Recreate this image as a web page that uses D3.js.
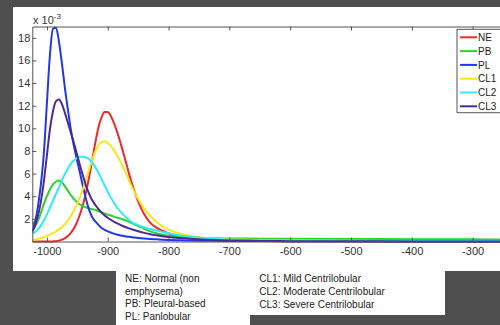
<!DOCTYPE html>
<html><head><meta charset="utf-8">
<script src="https://cdn.jsdelivr.net/npm/d3@7"></script>
<style>html,body{margin:0;padding:0;background:#4f4f4f;}svg{display:block;}</style>
</head><body>
<svg id="c" width="500" height="325"></svg>
<script>
const hu = [-1024,-1020,-1015,-1010,-1005,-1000,-995,-990,-985,-980,-975,-970,-965,-960,-955,-950,-945,-940,-935,-930,-925,-920,-915,-910,-905,-900,-895,-890,-885,-880,-875,-870,-865,-860,-850,-840,-830,-820,-810,-800,-780,-760,-740,-720,-700,-650,-600,-500,-400,-300,-250];
const NE  = [0,0,0,0,0,0,0,0.01,0.03,0.08,0.17,0.3,0.5,0.8,1.22,1.78,2.5,3.4,4.5,5.85,7.35,8.85,10.15,11.0,11.45,11.45,11.1,10.5,9.75,8.9,7.95,7.0,6.0,5.1,3.55,2.4,1.65,1.22,0.95,0.72,0.43,0.27,0.18,0.12,0.09,0.04,0.02,0.01,0.01,0.01,0.01];
const PB  = [1.8,1.4,1.8,2.5,3.3,4.0,4.6,5.05,5.3,5.4,5.2,4.85,4.45,4.05,3.72,3.45,3.25,3.1,3.0,2.92,2.85,2.78,2.68,2.58,2.48,2.38,2.3,2.21,2.12,2.04,1.95,1.85,1.74,1.62,1.37,1.12,0.9,0.73,0.6,0.5,0.39,0.33,0.3,0.28,0.27,0.25,0.24,0.22,0.2,0.19,0.18];
const PL  = [0.9,1.6,3.0,5.0,7.8,12.2,16.5,18.8,18.9,17.6,15.6,13.4,11.5,9.7,8.3,7.1,5.9,4.7,3.6,2.7,2.1,1.75,1.45,1.2,1.02,0.9,0.8,0.7,0.62,0.55,0.5,0.45,0.41,0.38,0.31,0.26,0.22,0.19,0.16,0.14,0.11,0.09,0.07,0.06,0.05,0.04,0.03,0.02,0.01,0.01,0.01];
const CL1 = [0.12,0.16,0.22,0.3,0.38,0.48,0.6,0.74,0.9,1.08,1.3,1.55,1.88,2.3,2.8,3.35,4.0,4.75,5.55,6.45,7.3,8.0,8.5,8.8,8.85,8.7,8.45,8.1,7.65,7.15,6.6,6.0,5.4,4.8,3.75,2.9,2.25,1.75,1.35,1.05,0.68,0.46,0.33,0.25,0.2,0.13,0.09,0.06,0.05,0.04,0.04];
const CL2 = [0.7,0.8,1.05,1.4,1.85,2.4,3.0,3.6,4.2,4.8,5.45,6.0,6.5,6.9,7.2,7.4,7.5,7.5,7.42,7.25,6.95,6.55,6.05,5.5,4.95,4.4,3.9,3.45,3.05,2.7,2.4,2.12,1.9,1.7,1.45,1.25,1.1,0.97,0.85,0.73,0.53,0.39,0.29,0.22,0.18,0.12,0.09,0.06,0.05,0.04,0.04];
const CL3 = [0.9,1.3,2.2,3.5,5.3,7.6,9.9,11.5,12.4,12.55,12.1,11.3,10.4,9.5,8.6,7.6,6.6,5.7,4.8,4.15,3.6,3.2,2.85,2.55,2.3,2.1,1.92,1.76,1.62,1.49,1.37,1.26,1.16,1.07,0.9,0.76,0.64,0.55,0.47,0.4,0.3,0.22,0.16,0.12,0.09,0.05,0.03,0.02,0.01,0.01,0.01];
const seriesNames = ["NE","PB","PL","CL1","CL2","CL3"];
const seriesValues = [NE,PB,PL,CL1,CL2,CL3];
const colors = ["#f02a2a","#2fd02f","#2536e6","#f7e71c","#30ecec","#4b2a98"];
const xTicks = [-1000,-900,-800,-700,-600,-500,-400,-300];
const yTicks = [2,4,6,8,10,12,14,16,18];
const notesLeft = ["NE: Normal (non","emphysema)","PB: Pleural-based","PL: Panlobular"];
const notesRight = ["CL1: Mild Centrilobular","CL2: Moderate Centrilobular","CL3: Severe Centrilobular"];

const svg = d3.select("#c");
const font = "'Liberation Sans', Arial, sans-serif";
svg.append("rect").attr("width",500).attr("height",325).attr("fill","#4f4f4f");
// white panels
svg.append("rect").attr("x",13).attr("y",7).attr("width",490).attr("height",264).attr("fill","#fff");
svg.append("rect").attr("x",116).attr("y",270).attr("width",134).attr("height",56).attr("fill","#fff");
svg.append("rect").attr("x",249).attr("y",270).attr("width",196).attr("height",45).attr("fill","#fff");

const L = 32.3, R = 500, T = 26.5, B = 241.5;
const x = d3.scaleLinear().domain([-1024,-255]).range([L,R]);
const y = d3.scaleLinear().domain([0,19]).range([B,T]);

svg.append("defs").append("clipPath").attr("id","clip")
  .append("rect").attr("x",L).attr("y",0).attr("width",R-L+10).attr("height",B+2);

const line = d3.line().x((d,i)=>x(hu[i])).y(d=>y(d)).curve(d3.curveMonotoneX);
const g = svg.append("g").attr("clip-path","url(#clip)");
seriesValues.forEach((vals,k)=>{
  g.append("path").attr("d",line(vals)).attr("fill","none")
   .attr("stroke",colors[k]).attr("stroke-width",2).attr("stroke-linejoin","round");
});

const axColor = "#555";
const fmt = d => String(d);
const xb = svg.append("g").attr("transform",`translate(0,${B})`)
  .call(d3.axisBottom(x).tickValues(xTicks).tickSize(-4).tickSizeOuter(0).tickPadding(6).tickFormat(fmt));
const xt = svg.append("g").attr("transform",`translate(0,${T})`)
  .call(d3.axisTop(x).tickValues(xTicks).tickSize(-4).tickSizeOuter(0).tickFormat(""));
const yl = svg.append("g").attr("transform",`translate(${L},0)`)
  .call(d3.axisLeft(y).tickValues(yTicks).tickSize(-4).tickSizeOuter(0).tickPadding(2).tickFormat(fmt));
[xb,xt,yl].forEach(a=>{
  a.selectAll("path").attr("stroke",axColor);
  a.selectAll("line").attr("stroke",axColor);
  a.selectAll("text").attr("fill","#333").style("font-family",font).style("font-size","11px");
});

// exponent label
const ex = svg.append("text").attr("x",33).attr("y",24).attr("fill","#333")
  .style("font-family",font).style("font-size","11px");
ex.append("tspan").text("x 10");
ex.append("tspan").attr("dy",-5).style("font-size","8px").text("-3");

// legend
const lg = svg.append("g");
lg.append("rect").attr("x",457).attr("y",29.3).attr("width",60).attr("height",83.4)
  .attr("fill","#fff").attr("stroke","#555").attr("stroke-width",1);
seriesNames.forEach((n,i)=>{
  const yy = 37.3 + i*13.8;
  lg.append("line").attr("x1",460).attr("x2",477).attr("y1",yy).attr("y2",yy)
    .attr("stroke",colors[i]).attr("stroke-width",2);
  lg.append("text").attr("x",478).attr("y",yy+3.6).text(n).attr("fill","#222")
    .style("font-family",font).style("font-size","10px");
});

// notes
notesLeft.forEach((t,i)=>{
  svg.append("text").attr("x",125).attr("y",281.8+i*12.7).text(t).attr("fill","#222")
    .style("font-family",font).style("font-size","10px");
});
notesRight.forEach((t,i)=>{
  svg.append("text").attr("x",259.3).attr("y",281.8+i*12.9).text(t).attr("fill","#222")
    .style("font-family",font).style("font-size","10px");
});
</script>
</body></html>
